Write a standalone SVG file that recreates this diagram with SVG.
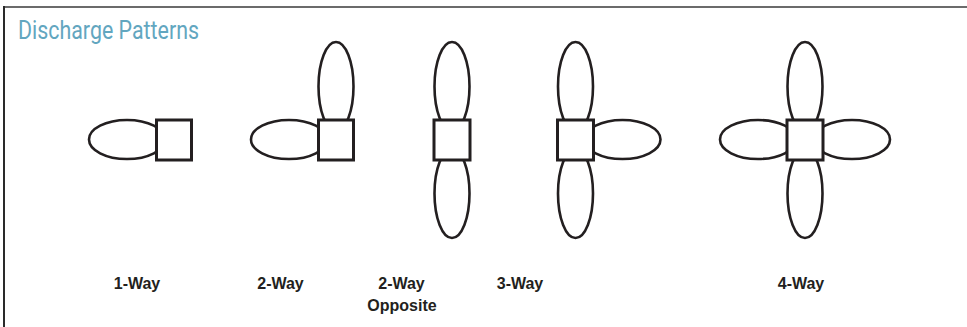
<svg xmlns="http://www.w3.org/2000/svg" width="967" height="327" viewBox="0 0 967 327">
<style>
.lobe{fill:none;stroke:#231f20;stroke-width:2.6}
.box{fill:#ffffff;stroke:#231f20;stroke-width:3}
.lbl{font-family:"Liberation Sans",Arial,sans-serif;font-weight:bold;font-size:16px;fill:#231f20;text-anchor:middle}
.title{font-family:Roboto,"Liberation Sans",sans-serif;font-size:25px;fill:#62a6bf}
</style>
<defs>
<ellipse id="hl" cx="0" cy="0" rx="38" ry="19.5"/>
<ellipse id="vl" cx="0" cy="0" rx="17.5" ry="44.5"/>
</defs>
<rect x="0" y="0" width="967" height="327" fill="#ffffff"/>
<line x1="4" y1="7" x2="967" y2="7" stroke="#6b6b6b" stroke-width="2"/>
<line x1="4" y1="6" x2="4" y2="327" stroke="#2a2a2a" stroke-width="2"/>
<text class="title" x="18" y="39" textLength="181" lengthAdjust="spacingAndGlyphs">Discharge Patterns</text>

<g id="one-way">
<use href="#hl" class="lobe" x="127" y="139.5"/>
<rect class="box" x="156.5" y="120" width="35" height="40"/>
<text class="lbl" x="137" y="289">1-Way</text>
</g>

<g id="two-way">
<use href="#hl" class="lobe" x="289" y="139.5"/>
<use href="#vl" class="lobe" x="336" y="86.5"/>
<rect class="box" x="318.5" y="120" width="35" height="40"/>
<text class="lbl" x="280.5" y="289">2-Way</text>
</g>

<g id="two-way-opposite">
<use href="#vl" class="lobe" x="452" y="86.5"/>
<use href="#vl" class="lobe" x="452" y="193.5"/>
<rect class="box" x="434" y="120" width="36" height="40"/>
<text class="lbl" x="401.5" y="289">2-Way</text>
<text class="lbl" x="402" y="311">Opposite</text>
</g>

<g id="three-way">
<use href="#vl" class="lobe" x="575.5" y="86.5"/>
<use href="#vl" class="lobe" x="575.5" y="193.5"/>
<use href="#hl" class="lobe" x="622.5" y="139.5"/>
<rect class="box" x="557.5" y="120" width="36" height="40"/>
<text class="lbl" x="520" y="289">3-Way</text>
</g>

<g id="four-way">
<use href="#vl" class="lobe" x="805" y="86.5"/>
<use href="#vl" class="lobe" x="805" y="193.5"/>
<use href="#hl" class="lobe" x="758" y="139.5"/>
<use href="#hl" class="lobe" x="852" y="139.5"/>
<rect class="box" x="787" y="120" width="36" height="40"/>
<text class="lbl" x="801" y="289">4-Way</text>
</g>

<g id="connectors"></g>
</svg>
